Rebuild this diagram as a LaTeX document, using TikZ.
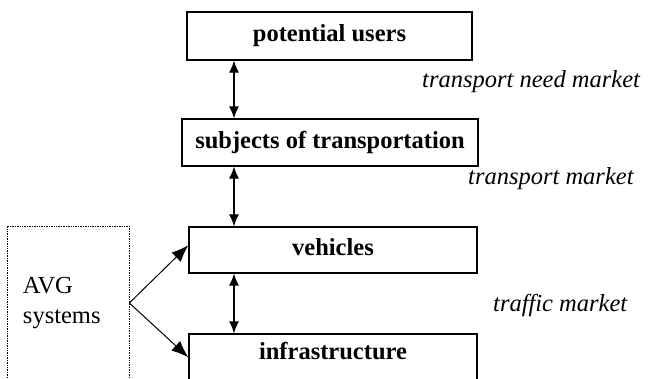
\documentclass[tikz,border=0pt]{standalone}
\usepackage{fontspec}
\setmainfont{Liberation Serif}
\usetikzlibrary{arrows.meta,calc}
\begin{document}
\begin{tikzpicture}[x=1pt,y=1pt,
  font=\fontsize{24.5}{30}\selectfont,
  box/.style={draw,line width=1.3pt,inner sep=0pt,font=\fontsize{24.5}{30}\selectfont\bfseries,text height=17pt,text depth=5pt},
  lab/.style={anchor=base west,inner sep=0pt,font=\fontsize{24.5}{30}\selectfont\itshape},
  conn/.style={line width=1.1pt,{Latex[length=12pt,width=10pt]}-{Latex[length=12pt,width=10pt]}},
  side/.style={line width=1pt,-{Latex[length=17pt,width=13pt]}}]
\useasboundingbox (0,0) rectangle (651,379);
\node[box,minimum width=285pt,minimum height=48pt] (pu) at (329.5,343) {potential users};
\node[box,minimum width=296pt,minimum height=47pt] (st) at (330,236.5) {subjects of transportation};
\node[box,minimum width=288pt,minimum height=46pt] (ve) at (333,129) {vehicles};
\node[box,anchor=base,text height=26pt,text depth=60pt,minimum width=288pt] (in) at (333,19) {infrastructure};
\node[draw,densely dotted,line width=0.7pt,minimum width=122pt,minimum height=154pt,inner sep=0pt,text width=90pt,align=left] (avg) at (68,76) {AVG\\systems};
\coordinate (ax) at (234,0);
\draw[conn] (pu.south -| ax) -- (st.north -| ax);
\draw[conn] (st.south -| ax) -- (ve.north -| ax);
\draw[conn] (ve.south -| ax) -- (in.north -| ax);
\draw[side] (avg.east) -- ($(ve.north west)!0.4!(ve.south west)$);
\draw[side] (avg.east) -- ([yshift=-24pt]in.north west);
\node[lab] (l1) at (422,291) {transport need market};
\node[lab] (l2) at (468,194) {transport market};
\node[lab] (l3) at (493,67) {traffic market};
\end{tikzpicture}
\end{document}
